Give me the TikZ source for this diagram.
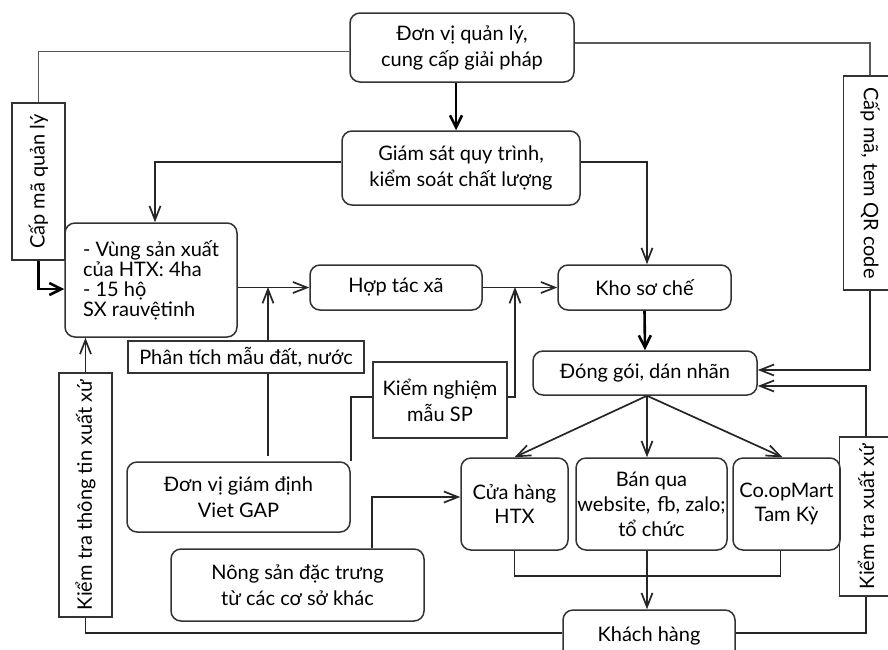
\documentclass[tikz,border=0pt]{standalone}
\usepackage{fontspec}
\setmainfont{Lato}
\usepackage{tikz}
\usetikzlibrary{arrows.meta,positioning}

\tikzset{
  rbox/.style={draw=black!80, line width=0.75pt, rounded corners=5pt, align=center, inner sep=0pt, font=\fontsize{10}{13}\selectfont},
  sbox/.style={draw=black!80, line width=0.75pt, align=center, inner sep=0pt, font=\fontsize{10}{13}\selectfont},
  line/.style={draw=black!85, line width=0.85pt},
  gline/.style={draw=black!65, line width=0.85pt},
  barb/.style={line, -{Straight Barb[length=7pt,width=5.5pt]}},
  bigarr/.style={draw=black, line width=1.3pt, -{Straight Barb[length=6pt,width=6pt]}}
}

\begin{document}
\begin{tikzpicture}[x=0.5pt,y=-0.5pt]
\useasboundingbox (0,0) rectangle (888,649);

\node[rbox, minimum width=112pt, minimum height=34.5pt] (toporg) at (462,47.5) {Đơn vị quản lý,\\cung cấp giải pháp};
\node[rbox, minimum width=119pt, minimum height=37pt] (giamsat) at (461,168) {Giám sát quy trình,\\kiểm soát chất lượng};
\node[rbox, minimum width=86pt, minimum height=57pt, align=left, font=\fontsize{10}{10}\selectfont] (vung) at (151,280) {- Vùng sản xuất\\của HTX: 4ha\\- 15 hộ\\SX rauvệtinh};
\node[rbox, minimum width=86pt, minimum height=22.5pt] (htx) at (396,287.5) {Hợp tác xã};
\node[rbox, minimum width=86.5pt, minimum height=22.5pt] (kho) at (644.5,287.5) {Kho sơ chế};
\node[rbox, minimum width=112pt, minimum height=22pt] (donggoi) at (645,373) {Đóng gói, dán nhãn};
\node[rbox, minimum width=53.5pt, minimum height=46pt, font=\fontsize{10}{12}\selectfont] (cuahang) at (514.5,504) {Cửa hàng\\HTX};
\node[rbox, minimum width=75.5pt, minimum height=46pt, font=\fontsize{10}{12.5}\selectfont] (banqua) at (651.5,504) {Bán qua\\website,\hspace{0.35em}fb, zalo;\\tổ chức};
\node[rbox, minimum width=53.5pt, minimum height=46pt, font=\fontsize{10}{12}\selectfont] (coop) at (786.5,504) {Co.opMart\\Tam Kỳ};
\node[rbox, minimum width=86pt, minimum height=26pt] (khach) at (649,636) {Khách hàng};
\node[rbox, minimum width=111.5pt, minimum height=35pt] (vietgap) at (238.5,497) {Đơn vị giám định\\Viet GAP};
\node[rbox, minimum width=126.5pt, minimum height=36pt] (nongsan) at (297.5,585) {Nông sản đặc trưng\\từ các cơ sở khác};

\node[sbox, rotate=90, minimum width=78.5pt, minimum height=26.5pt] (capma) at (38.5,181.5) {Cấp mã quản lý};
\node[sbox, rotate=-90, minimum width=107pt, minimum height=26.5pt] (qr) at (870,183) {Cấp mã, tem QR code};
\node[sbox, rotate=90, minimum width=122pt, minimum height=26.5pt] (kiemtra1) at (85.5,495) {Kiểm tra thông tin xuất xứ};
\node[sbox, rotate=90, minimum width=79.5pt, minimum height=26.5pt] (kiemtra2) at (866,516.5) {Kiểm tra xuất xứ};
\node[sbox, minimum width=118pt, minimum height=16pt] (phantich) at (246,357) {Phân tích mẫu đất, nước};
\node[sbox, minimum width=67pt, minimum height=38pt] (kiemnghiem) at (440,400) {Kiểm nghiệm\\mẫu SP};

\coordinate (j1) at (268,287); \coordinate (j2) at (515,287); \coordinate (j3) at (647,576);

\draw[gline] ([yshift=-2pt]toporg.west) -| (capma.east);
\draw[bigarr] (capma.west) |- ([yshift=-4.5pt]vung.west);
\draw[gline] ([yshift=2.25pt]toporg.east) -| (qr.west);
\draw[barb] (qr.east) |- ([yshift=1.5pt]donggoi.east);
\draw[bigarr] ([xshift=-3pt]toporg.south) -- ([xshift=-3pt]toporg.south |- giamsat.north);
\draw[barb] ([yshift=3pt]giamsat.west) -| ([xshift=2pt]vung.north);
\draw[barb] ([yshift=3pt]giamsat.east) -| ([xshift=1.25pt]kho.north);

\draw[barb] (vung.east |- htx) -- (htx.west);
\draw[barb] (htx) -- (kho.west);
\draw[line] ([yshift=2.5pt]vietgap.north -| j1) -- (phantich.south -| j1);
\draw[barb] (phantich.north -| j1) -- (j1);
\draw[line] (vietgap.north east) |- ([yshift=1.5pt]kiemnghiem.west);
\draw[barb] ([yshift=1.5pt]kiemnghiem.east) -| (j2);
\draw[barb] ([xshift=37.25pt]nongsan.north) |- ([yshift=3.5pt]cuahang.west);

\draw[bigarr] (kho.south) -- (donggoi.north);
\draw[barb] (donggoi.south -| j3) -- (cuahang.north);
\draw[barb] (donggoi.south -| j3) -- (banqua.north -| j3);
\draw[barb] (donggoi.south -| j3) -- ([xshift=-2pt]coop.north);
\draw[line] (cuahang.south) |- (j3) -| ([xshift=-3pt]coop.south);
\draw[barb] (banqua.south -| j3) -- (khach.north -| j3);

\draw[line] ([yshift=1.5pt]khach.west) -| (kiemtra1.west);
\draw[barb] (kiemtra1.east) -- (kiemtra1.east |- vung.south);
\draw[line] ([yshift=1.5pt]khach.east) -| (kiemtra2.west);
\draw[barb] (kiemtra2.east) |- ([yshift=-6.5pt]donggoi.east);
\end{tikzpicture}
\end{document}
